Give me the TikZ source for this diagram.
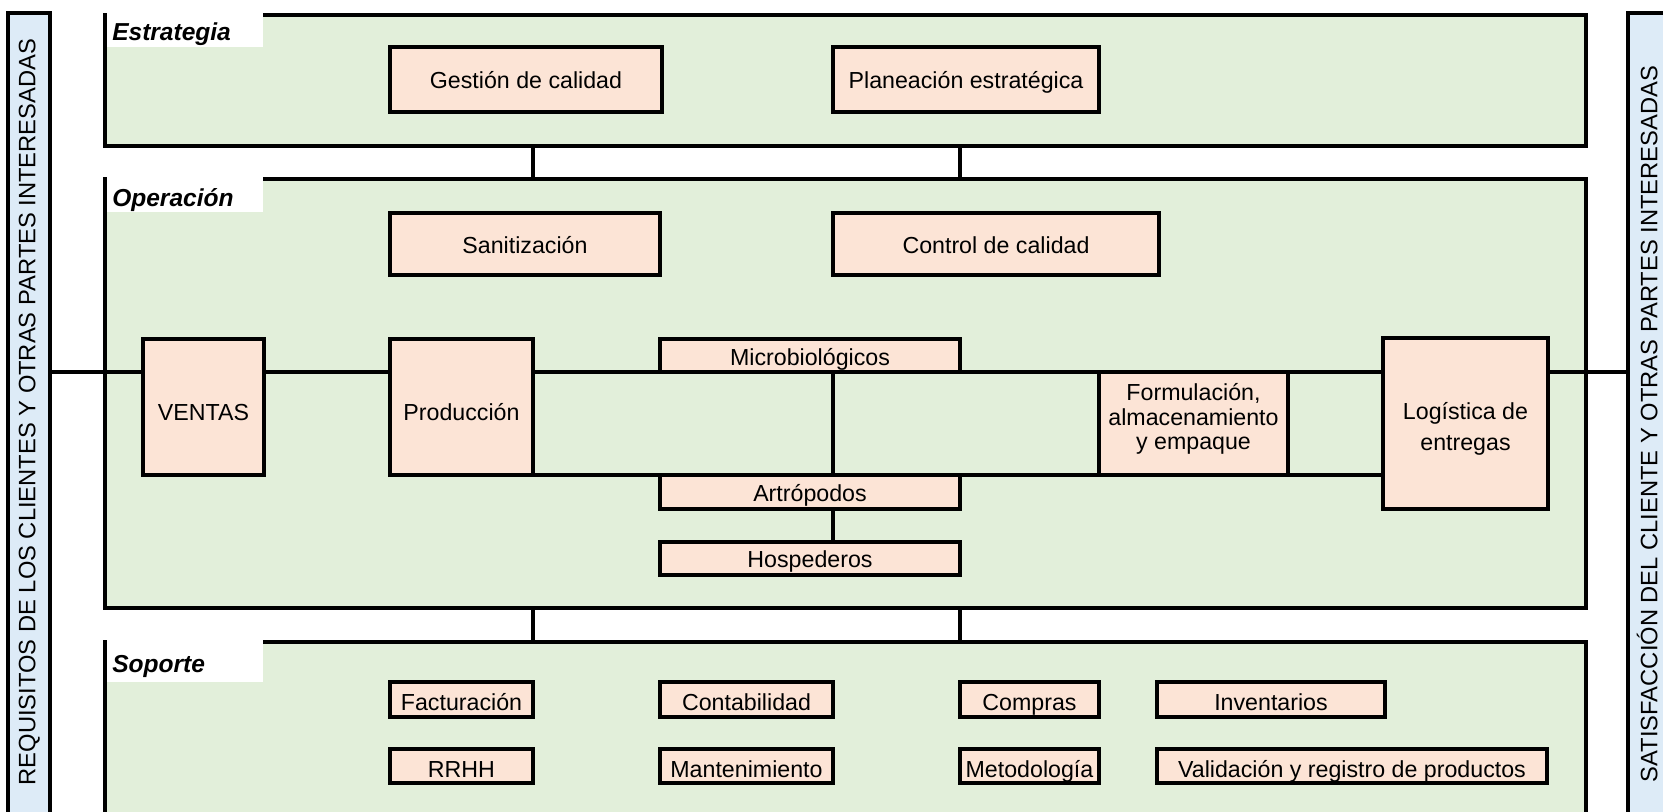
\documentclass[tikz,border=0pt]{standalone}
\usepackage{fontspec}
\setmainfont{Liberation Sans}
\definecolor{panel}{HTML}{E2EFDA}
\definecolor{peach}{HTML}{FCE4D6}
\definecolor{barblue}{HTML}{DDEBF7}
\pgfdeclarelayer{back}
\pgfdeclarelayer{mid}
\pgfsetlayers{back,mid,main}
\newcommand\prbox[7][]{\node[pb,#1,minimum width={(#5-#3)*0.75pt},minimum height={(#6-#4)*0.75pt}] (#2) at ({(#3+#5)/2},{(#4+#6)/2}) {#7};}
\newcommand\stacktext[2]{\raisebox{#1}[0pt][0pt]{\begin{tabular}{@{}c@{}}#2\end{tabular}}}
\begin{document}
\begin{tikzpicture}[x=0.75pt,y=-0.75pt,
  font=\fontsize{17.4}{20}\selectfont,
  pb/.style={draw=black, line width=2.5pt, fill=peach, inner sep=0pt, rectangle, text height=14pt, text depth=0pt},
  pbm/.style={text height=0pt, text depth=0pt},
  low/.style={text height=17pt},
  lower/.style={text height=20.5pt},
  mic/.style={text height=15.5pt},
  framebox/.style={fill=panel},
  sidebar/.style={fill=barblue},
  lab/.style={anchor=base west, inner sep=0pt, font=\fontsize{18.4}{20}\selectfont\bfseries\itshape},
  sidetext/.style={rotate=90, inner sep=0pt, font=\fontsize{17.8}{20}\selectfont, text height=12.5pt, text depth=0pt},
  conn/.style={draw=black, line width=2.5pt}]
\useasboundingbox (0,0) rectangle (1663,812);
\clip (0,0) rectangle (1663,812);
\begin{pgfonlayer}{back}
  \fill[white] (0,0) rectangle (1663,812);
  \prbox[framebox]{estr}{105}{15}{1586}{146}{}
  \prbox[framebox]{oper}{105}{179}{1586}{608}{}
  \prbox[framebox]{sopo}{105}{642}{1586}{880}{}
  \prbox[sidebar]{lbar}{8}{13}{50}{880}{}
  \prbox[sidebar]{rbar}{1628}{13}{1700}{880}{}
  \fill[white] (106.8,8) rectangle (263,47);
  \fill[white] (106.8,175) rectangle (263,212);
  \fill[white] (106.8,638) rectangle (263,682);
  \node[lab] (lestr) at (112,41) {Estrategia};
  \node[lab] (loper) at (112,207) {Operación};
  \node[lab] (lsopo) at (112,672) {Soporte};
  \node[sidetext] (ltxt) at (27,412) {REQUISITOS DE LOS CLIENTES Y OTRAS PARTES INTERESADAS};
  \node[sidetext] (rtxt) at (1649,424) {SATISFACCIÓN DEL CLIENTE Y OTRAS PARTES INTERESADAS};
\end{pgfonlayer}
% Estrategia
\prbox{gest}{390}{47}{662}{112}{Gestión de calidad}
\prbox{plan}{833}{47}{1099}{112}{Planeación estratégica}
% Operacion
\prbox{sani}{390}{213}{660}{275}{Sanitización}
\prbox{ctrl}{833}{213}{1159}{275}{Control de calidad}
\prbox[lower]{vent}{143}{339}{264}{475}{VENTAS}
\prbox[lower]{prod}{390}{339}{533}{475}{Producción}
\prbox[mic]{micr}{660}{339}{960}{372}{Microbiológicos}
\prbox{artr}{660}{475}{960}{509}{Artrópodos}
\prbox{hosp}{660}{542}{960}{575}{Hospederos}
\prbox[pbm,font=\fontsize{17.4}{18.4}\selectfont]{form}{1099}{372}{1288}{475}{\stacktext{-2pt}{Formulación,\\almacenamiento\\y empaque}}
\prbox[pbm,font=\fontsize{17.4}{23.5}\selectfont]{logi}{1383}{338}{1548}{509}{\stacktext{-8.3pt}{Logística de\\entregas}}
% Soporte
\prbox[low]{fact}{390}{682}{533}{717}{Facturación}
\prbox[low]{rrhh}{390}{749}{533}{783}{RRHH}
\prbox[low]{cont}{660}{682}{833}{717}{Contabilidad}
\prbox[low]{mant}{660}{749}{833}{783}{Mantenimiento}
\prbox[low]{comp}{960}{682}{1099}{717}{Compras}
\prbox[low]{meto}{960}{749}{1099}{783}{Metodología}
\prbox[low]{inve}{1157}{682}{1385}{717}{Inventarios}
\prbox[low]{vali}{1157}{749}{1547}{783}{Validación y registro de productos}
% connectors
\coordinate (ml) at (0,372);
\coordinate (ll) at (0,475);
\coordinate (vx) at (833,0);
\coordinate (c1) at (533,0);
\coordinate (c2) at (960,0);
\begin{pgfonlayer}{mid}
  \draw[conn] (lbar.east |- ml) -- (vent.west |- ml);
  \draw[conn] (vent.east |- ml) -- (prod.west |- ml);
  \draw[conn] (prod.east |- ml) -- (logi.west |- ml);
  \draw[conn] (prod.east |- ll) -- (logi.west |- ll);
  \draw[conn] (logi.east |- ml) -- (rbar.west |- ml);
  \draw[conn] (micr.south -| vx) -- (artr.north -| vx);
  \draw[conn] (artr.south -| vx) -- (hosp.north -| vx);
  \draw[conn] (estr.south -| c1) -- (oper.north -| c1);
  \draw[conn] (estr.south -| c2) -- (oper.north -| c2);
  \draw[conn] (oper.south -| c1) -- (sopo.north -| c1);
  \draw[conn] (oper.south -| c2) -- (sopo.north -| c2);
\end{pgfonlayer}
\end{tikzpicture}
\end{document}
